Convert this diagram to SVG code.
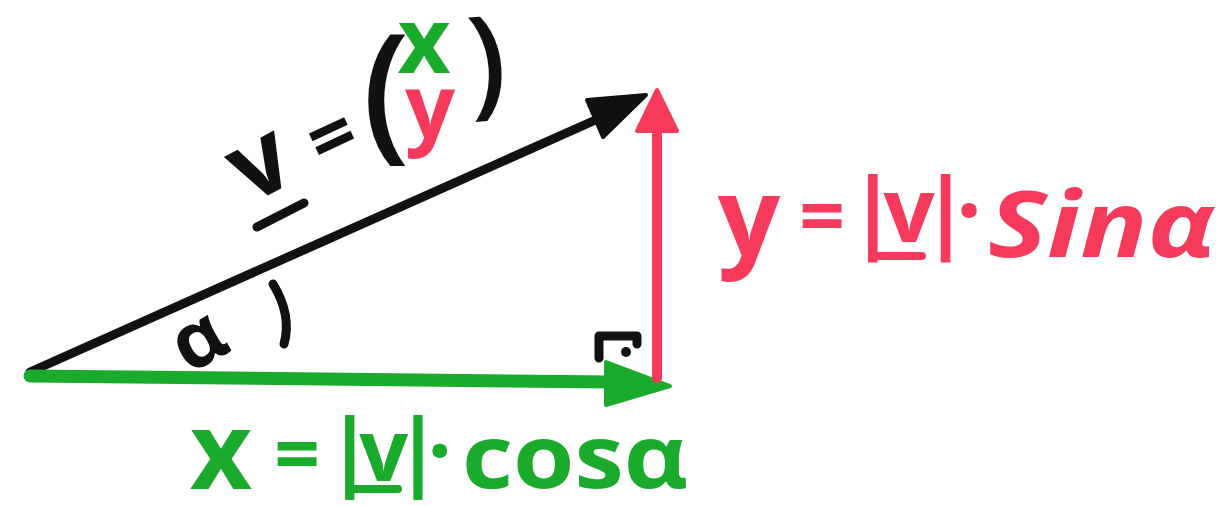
<svg xmlns="http://www.w3.org/2000/svg" width="1226" height="506" viewBox="0 0 1226 506">
<style>
  .t { font-family: "Open Sans", "Liberation Sans", sans-serif; font-weight: 700; }
  .p { font-family: "Open Sans", "Liberation Sans", sans-serif; font-weight: 600; }
  .k { fill: #111111; }
  .g { fill: #1aaa2c; }
  .r { fill: #f53a5c; }
  .ln { fill: none; stroke-linecap: round; stroke-linejoin: round; }
</style>
<rect width="1226" height="506" fill="#ffffff"/>
<g id="connectors">
  <g id="vec-v">
    <line class="ln" x1="30" y1="372" x2="600" y2="118" stroke="#111111" stroke-width="9"/>
    <polygon points="646,95 603,137 587,100" fill="#111111" stroke="#111111" stroke-width="4" stroke-linejoin="round"/>
  </g>
  <g id="vec-x">
    <line class="ln" x1="30" y1="376" x2="612" y2="382" stroke="#1aaa2c" stroke-width="13"/>
    <polygon points="670,386 606,362 606,405" fill="#1aaa2c" stroke="#1aaa2c" stroke-width="4" stroke-linejoin="round"/>
  </g>
  <g id="vec-y">
    <line class="ln" x1="657" y1="378" x2="657" y2="126" stroke="#f53a5c" stroke-width="10"/>
    <polygon points="657,90 637,131 677,131" fill="#f53a5c" stroke="#f53a5c" stroke-width="4" stroke-linejoin="round"/>
  </g>
</g>
<g id="angle">
  <path class="ln" d="M273,284 Q292,315 284,344" stroke="#111111" stroke-width="9"/>
  <text class="t k" font-size="78" text-anchor="middle" transform="translate(200,343) rotate(-30)" x="0" y="22">α</text>
</g>
<g id="right-angle">
  <path class="ln" d="M599,358 L599,336 L637,336 L637,344" stroke="#111111" stroke-width="9"/>
  <circle cx="626" cy="352" r="5" fill="#111111"/>
</g>
<g id="label-v">
  <text class="t k" font-size="100" text-anchor="middle" transform="translate(262,168) rotate(-28)" x="0" y="27">v</text>
  <line class="ln" x1="257" y1="227" x2="304" y2="203" stroke="#111111" stroke-width="9"/>
  <text class="t k" font-size="80" text-anchor="middle" transform="translate(332,137) rotate(-25)" x="0" y="27">=</text>
  <text class="p k" font-size="150" text-anchor="middle" x="386" y="142">(</text>
  <text class="t g" font-size="92" text-anchor="middle" x="424" y="73">x</text>
  <text class="t r" font-size="88" text-anchor="middle" x="430" y="138">y</text>
  <text class="p k" font-size="120" text-anchor="middle" transform="translate(487,68) rotate(-4)" x="0" y="34">)</text>
</g>
<g id="label-y">
  <text class="t r" font-size="110" text-anchor="middle" x="749" y="256">y</text>
  <text class="t r" font-size="80" text-anchor="middle" x="822" y="245">=</text>
  <text class="t r" font-size="90" x="848" y="242" textLength="134" lengthAdjust="spacing">|v|·</text>
  <line class="ln" x1="876" y1="256" x2="922" y2="256" stroke="#f53a5c" stroke-width="8"/>
  <text class="t r" font-size="92" font-style="italic" x="988" y="257" textLength="227" lengthAdjust="spacingAndGlyphs">Sinα</text>
</g>
<g id="label-x">
  <text class="t g" font-size="108" text-anchor="middle" x="221" y="489">x</text>
  <text class="t g" font-size="80" text-anchor="middle" x="297" y="483">=</text>
  <text class="t g" font-size="86" x="326" y="481" textLength="126" lengthAdjust="spacing">|v|·</text>
  <line class="ln" x1="352" y1="489" x2="398" y2="489" stroke="#1aaa2c" stroke-width="8"/>
  <text class="t g" font-size="88" x="462" y="488" textLength="226" lengthAdjust="spacingAndGlyphs">cosα</text>
</g>
</svg>
